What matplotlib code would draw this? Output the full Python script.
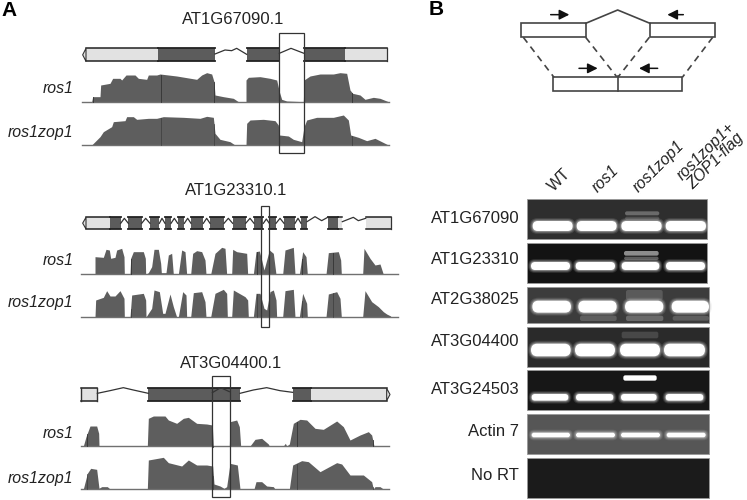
import numpy as np
import matplotlib
matplotlib.use("Agg")
import matplotlib.pyplot as plt
from matplotlib.patches import Rectangle, FancyBboxPatch, Polygon

plt.rcParams['font.family'] = ['Liberation Sans', 'DejaVu Sans']

# everything below is read at 3x picture scale, each gene relative to its own crop
gene_names = ["AT1G67090.1", "AT1G23310.1", "AT3G04400.1"]
track_names = ["ros1", "ros1zop1"]

g1_ros1_x = [275,278,300,302,330,338,360,365,378,405,415,440,445,470,480,530,590,605,620,635,642,645,670,700,715,738,738,745,780,810,830,838,845,860,910,912,930,960,1000,1020,1040,1050,1058,1080,1095,1120,1140,1165]
g1_ros1_y = [305,290,290,255,250,235,235,240,225,225,235,238,225,225,222,228,238,225,218,222,245,285,290,295,305,305,240,232,230,235,240,275,298,303,305,240,228,222,222,218,220,270,280,285,298,292,295,305]
g1_zop_x = [275,300,310,335,340,375,380,400,410,445,470,490,550,600,620,640,645,660,690,705,738,740,750,790,825,835,838,865,880,905,912,920,950,1000,1030,1045,1052,1075,1100,1125,1145,1165]
g1_zop_y = [435,410,395,380,365,362,350,350,358,355,355,350,352,355,349,352,400,418,425,435,435,370,360,358,362,375,405,408,418,425,380,360,352,352,345,360,405,412,422,415,425,435]

g2_ros1_x = [285,285,310,318,328,332,345,350,365,372,373,390,392,400,430,436,437,445,455,462,475,482,484,498,505,515,520,535,545,555,560,572,578,590,605,615,618,632,645,665,675,680,695,698,710,740,743,760,768,778,785,792,800,808,820,828,848,855,880,885,898,908,918,922,978,985,1015,1022,1024,1088,1092,1110,1125,1140,1150]
g2_ros1_y = [313,260,262,238,240,265,262,240,235,260,313,313,265,245,245,265,313,308,290,238,238,280,308,308,255,250,313,313,240,245,313,313,250,242,245,270,313,313,250,232,235,313,313,238,245,250,313,313,245,243,270,300,270,240,250,313,313,240,232,313,313,245,260,313,313,248,245,270,313,313,235,265,285,282,313]
g2_zop_x = [285,287,310,320,330,345,360,372,373,390,395,430,437,438,445,455,462,478,485,488,495,510,520,530,535,548,558,560,572,580,605,615,618,632,645,670,680,682,695,700,735,743,745,760,768,780,792,800,810,820,828,830,848,855,880,885,898,908,920,922,978,985,1010,1020,1024,1088,1095,1115,1135,1150,1160,1172]
g2_zop_y = [441,390,382,362,378,378,362,385,441,441,375,370,390,441,430,415,360,365,410,430,430,372,410,441,441,365,375,441,441,368,365,395,441,441,370,358,370,441,441,360,380,390,441,441,370,370,415,420,365,360,390,441,441,362,358,441,441,370,400,441,441,372,365,385,441,441,362,395,410,425,432,438]

g3_ros1_x = [250,258,270,290,296,297,442,445,460,495,505,530,550,565,590,620,637,640,688,690,710,718,722,750,765,785,805,808,850,856,860,868,880,900,920,945,970,1010,1030,1050,1080,1105,1115,1122]
g3_ros1_y = [318,290,258,258,280,318,318,235,228,228,240,250,235,232,250,252,255,318,318,245,240,260,318,318,298,295,312,318,318,310,318,312,250,238,240,265,268,243,260,300,285,275,285,318]
g3_zop_x = [250,262,272,290,297,305,322,330,442,445,490,505,545,565,590,620,638,642,660,672,680,690,712,720,762,768,785,800,820,825,868,878,905,925,960,1010,1025,1050,1090,1115,1120,1125,1140,1150]
g3_zop_y = [447,400,385,388,445,440,440,447,447,360,352,368,378,360,375,375,378,432,438,445,440,370,375,447,447,425,425,438,440,447,447,375,362,365,395,368,372,405,405,425,447,440,440,447]

gene_tracks = [(g1_ros1_x, g1_ros1_y, g1_zop_x, g1_zop_y),
               (g2_ros1_x, g2_ros1_y, g2_zop_x, g2_zop_y),
               (g3_ros1_x, g3_ros1_y, g3_zop_x, g3_zop_y)]

# exon spans on each gene model
g1_cds = [(473,645),(740,838),(912,1035)]
g1_utr = [(258,473),(1035,1160)]
g1_introns = [[(645,162),(675,150),(695,152),(710,145),(740,163)], [(838,160),(873,145),(912,160)]]
g2_cds = [(330,362),(385,425),(450,478),(495,513),(533,553),(573,610),(630,672),(698,737),(762,790),(808,828),(852,885),(903,921),(983,1015)]
g2_utr = [(258,330),(1015,1027),(1097,1172)]
g2_introns = [[(362,160),(373,145),(385,160)],[(425,160),(437,145),(450,160)],[(478,160),(486,145),(495,160)],
              [(513,160),(523,145),(533,160)],[(553,160),(563,145),(573,160)],[(610,160),(620,145),(630,160)],
              [(672,160),(685,145),(698,160)],[(737,160),(750,145),(762,160)],[(790,160),(799,147),(808,160)],
              [(828,160),(840,145),(852,160)],[(885,160),(894,145),(903,160)],[(921,155),(945,140),(965,152),(983,142)],
              [(1027,155),(1060,142),(1075,152),(1097,145)]]
g3_cds = [(445,720),(878,933)]
g3_utr = [(243,292),(933,1160)]
g3_introns = [[(292,160),(330,152),(370,143),(400,150),(445,160)],[(637,158),(662,143),(688,155)],
              [(720,160),(760,150),(800,143),(840,152),(878,157)]]

gene_cds = [g1_cds, g2_cds, g3_cds]
gene_utr = [g1_utr, g2_utr, g3_utr]
gene_introns = [g1_introns, g2_introns, g3_introns]

gene_offsets = [0, 510, 1020]
gene_title_x = [698, 708, 694]
gene_title_y = [57, 62, 70]
model_y = [(145,184), (142,177), (145,182)]
track_base = [(305,436), (313,441), (318,447)]
track_span = [(245,1167), (242,1195), (242,1168)]
label_y = [(265,397), (272,398), (282,415)]
highlight = [(838,912,100,460), (782,806,108,470), (636,689,108,470)]
point_side = ["left", "left", "right"]
boundary_lines = [[278,482,642,838,1056], [392,770,905,1000], [262,640,690,890,1118]]

# gel panel
gel_names = ["AT1G67090", "AT1G23310", "AT2G38025", "AT3G04400", "AT3G24503", "Actin 7", "No RT"]
gel_label_y = [655, 780, 897, 1025, 1167, 1295, 1428]
gel_top = [597, 728, 860, 980, 1110, 1242, 1373]
gel_bottom = [717, 848, 970, 1100, 1230, 1363, 1494]
gel_right = [862, 862, 867, 868, 868, 867, 867]
gel_bg = ["#2e2e2e", "#131313", "#3c3c3c", "#2a2a2a", "#171717", "#565656", "#1b1b1b"]
gel_band_y = [678, 798, 920, 1050, 1192, 1305, None]
gel_band_h = [30, 24, 36, 38, 20, 14, 0]
gel_lanes = [[(338,458),(470,590),(604,725),(737,858)],
             [(333,450),(467,585),(605,718),(738,855)],
             [(337,453),(475,590),(615,730),(755,867)],
             [(333,452),(465,585),(600,720),(732,855)],
             [(335,445),(468,580),(603,710),(737,850)],
             [(335,450),(468,585),(603,720),(740,857)],
             []]
# upper bands only ros1zop1 has: gel, y, height, grey level
extra_bands = [(0,640,12,"#6a6a6a",(615,718)),(0,655,10,"#505050",(615,718)),
               (1,760,14,"#8c8c8c",(612,716)),(1,775,10,"#5c5c5c",(612,716)),
               (2,885,30,"#5a5a5a",(618,728)),(3,1005,20,"#484848",(605,715)),
               (4,1134,16,"#ffffff",(610,710))]
smears = [(2,955,16,"#5e5e5e",(480,590)),(2,955,16,"#6a6a6a",(618,730)),(2,955,14,"#5e5e5e",(758,867))]
lane_names = ["WT", "ros1", "ros1zop1"]
lane_label_x = [418, 558, 715]
lane_label_y = [540, 538, 500]

fig = plt.figure(figsize=(7.47, 5), dpi=100)
ax = fig.add_axes([0, 0, 1, 1])
ax.set_xlim(0, 2241)
ax.set_ylim(1500, 0)
ax.axis("off")

ax.text(3, 33, "A", fontsize=15, fontweight="bold", va="center", ha="left")
ax.text(1286, 28, "B", fontsize=15, fontweight="bold", va="center", ha="left")


def draw_model(i, off):
    y0, y1 = model_y[i]
    y0 += off
    y1 += off
    for a, b in gene_utr[i]:
        ax.add_patch(Rectangle((a, y0), b - a, y1 - y0, fc="#e2e2e2", ec="none", zorder=2))
        ax.plot([a, b], [y0, y0], color="#222222", lw=1.1, zorder=3)
        ax.plot([a, b], [y1, y1], color="#222222", lw=1.1, zorder=3)
    for a, b in gene_cds[i]:
        ax.add_patch(Rectangle((a, y0), b - a, y1 - y0, fc="#5c5c5c", ec="none", zorder=2))
        ax.plot([a, b], [y0, y0], color="#222222", lw=1.3, zorder=3)
        ax.plot([a, b], [y1, y1], color="#222222", lw=1.3, zorder=3)
    for pts in gene_introns[i]:
        ax.plot([p[0] for p in pts], [p[1] + off for p in pts], color="#333333", lw=0.9, zorder=3)
    # the pointed end
    ymid = (y0 + y1) / 2
    if point_side[i] == "left":
        a = gene_utr[i][0][0]
        ax.add_patch(Polygon([(a, y0), (a - 10, ymid), (a, y1)], fc="#e2e2e2", ec="#333333", lw=0.8, zorder=2))
    else:
        b = gene_utr[i][-1][1]
        ax.add_patch(Polygon([(b, y0), (b + 10, ymid), (b, y1)], fc="#e2e2e2", ec="#333333", lw=0.8, zorder=2))
    if i == 0:
        ax.plot([1160, 1160], [y0, y1], color="#333333", lw=0.9, zorder=3)
    if i == 1:
        ax.plot([1172, 1172], [y0, y1], color="#333333", lw=0.9, zorder=3)
    if i == 2:
        ax.plot([243, 243], [y0, y1], color="#333333", lw=1.0, zorder=3)
        ax.plot([292, 292], [y0, y1], color="#333333", lw=1.0, zorder=3)


for i, name in enumerate(gene_names):
    off = gene_offsets[i]
    ax.text(gene_title_x[i], gene_title_y[i] + off, name, fontsize=12, ha="center", va="center", color="#222222")
    draw_model(i, off)

    x_r, y_r, x_z, y_z = gene_tracks[i]
    base_r, base_z = track_base[i]
    ax.fill_between(x_r, np.array(y_r) + off, base_r + off, color="#5e5e5e", lw=0, zorder=1)
    ax.fill_between(x_z, np.array(y_z) + off, base_z + off, color="#5e5e5e", lw=0, zorder=1)
    for b in boundary_lines[i]:
        ax.plot([b, b], [np.interp(b, x_r, y_r) + off + 2, base_r + off], color="#333333", lw=0.6, zorder=1.5)
        ax.plot([b, b], [np.interp(b, x_z, y_z) + off + 2, base_z + off], color="#3c3c3c", lw=0.5, zorder=1.5)
    a, b = track_span[i]
    ax.plot([a, b], [base_r + off, base_r + off], color="#707070", lw=1.0, zorder=1)
    ax.plot([a, b], [base_z + off, base_z + off], color="#707070", lw=1.0, zorder=1)

    ax.text(220, label_y[i][0] + off, track_names[0], fontsize=11.4, style="italic", ha="right", va="center", color="#222222")
    ax.text(220, label_y[i][1] + off, track_names[1], fontsize=11.4, style="italic", ha="right", va="center", color="#222222")

    x0, x1, y0, y1 = highlight[i]
    ax.add_patch(Rectangle((x0, y0 + off), x1 - x0, y1 - y0, fc="none", ec="#333333", lw=0.9, zorder=4))

# exon-junction sketch
bx = 1260
line_c = "#444444"
ax.add_patch(Rectangle((bx + 303, 70), 194, 40, fc="white", ec=line_c, lw=1.2))
ax.add_patch(Rectangle((bx + 690, 70), 195, 40, fc="white", ec=line_c, lw=1.2))
ax.plot([bx + 497, bx + 593, bx + 690], [70, 30, 70], color=line_c, lw=1.2)
ax.add_patch(Rectangle((bx + 400, 232), 387, 40, fc="white", ec=line_c, lw=1.2))
ax.plot([bx + 593, bx + 593], [228, 272], color=line_c, lw=1.2)
for a, b, c, d in [(310, 112, 402, 232), (497, 112, 590, 230), (688, 112, 595, 230), (878, 112, 787, 232)]:
    ax.plot([bx + a, bx + c], [b, d], color=line_c, lw=1.2, dashes=(4, 3))
for a, b, y in [(392, 448, 44), (790, 742, 44), (477, 533, 205), (713, 657, 205)]:
    ax.annotate("", xy=(bx + b, y), xytext=(bx + a, y),
                arrowprops=dict(arrowstyle="-|>,head_width=0.3,head_length=0.6", color="#111111", lw=1.1, shrinkA=0, shrinkB=0))

for k, name in enumerate(lane_names):
    ax.text(bx + lane_label_x[k], lane_label_y[k], name, rotation=45, fontsize=11.4,
            style="normal" if k == 0 else "italic", ha="center", va="center", color="#222222",
            rotation_mode="anchor")
ax.text(bx + 872, 468, "ros1zop1+\nZOP1-flag", rotation=45, fontsize=11.4, style="italic", ha="center", va="center",
        color="#222222", linespacing=0.9, rotation_mode="anchor")

# gels
for g, name in enumerate(gel_names):
    ax.text(bx + 298, gel_label_y[g], name, fontsize=12, ha="right", va="center", color="#222222")
    x0 = bx + 320
    ax.add_patch(Rectangle((x0, gel_top[g]), gel_right[g] - 320, gel_bottom[g] - gel_top[g],
                           fc=gel_bg[g], ec="#999999", lw=0.6, zorder=1))

    for e in smears + extra_bands:
        if e[0] == g:
            a, b = e[4]
            ax.add_patch(FancyBboxPatch((bx + a, e[1] - e[2] / 2), b - a, e[2], boxstyle="round,pad=0,rounding_size=6",
                                        fc=e[3], ec="none", zorder=2))
    if gel_band_y[g] is not None:
        for a, b in gel_lanes[g]:
            h = gel_band_h[g]
            y = gel_band_y[g]
            # soft glow around each band
            for pad, alpha in [(9, 0.15), (6, 0.25), (3, 0.45)]:
                ax.add_patch(FancyBboxPatch((bx + a - pad, y - h / 2 - pad), b - a + 2 * pad, h + 2 * pad,
                                            boxstyle=f"round,pad=0,rounding_size={h / 2 + pad}",
                                            fc="#bbbbbb", ec="none", alpha=alpha, zorder=3))
            ax.add_patch(FancyBboxPatch((bx + a, y - h / 2), b - a, h,
                                        boxstyle=f"round,pad=0,rounding_size={h / 2}",
                                        fc="#ffffff", ec="none", zorder=4))

fig.savefig("out.png", dpi=100)
